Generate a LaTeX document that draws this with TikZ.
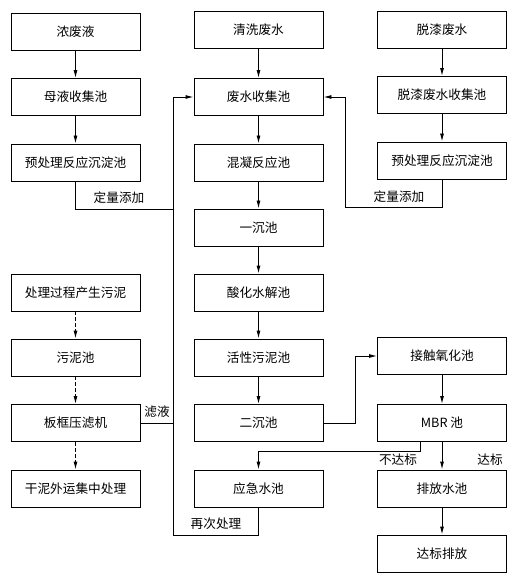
\documentclass[tikz,border=0pt]{standalone}
\usepackage{fontspec}
\setmainfont{Noto Sans CJK SC}
\usetikzlibrary{arrows.meta}
\tikzset{
  box/.style={draw, line width=0.7pt, minimum width=96.75pt, minimum height=27.75pt, inner sep=0pt, font=\fontsize{9.5pt}{11pt}\selectfont},
  lab/.style={inner sep=0pt, font=\fontsize{9.5pt}{11pt}\selectfont},
  conn/.style={line width=0.7pt},
  arr/.style={line width=0.7pt, -{Latex[length=6pt,width=3pt]}},
  darr/.style={line width=0.7pt, dash pattern=on 3pt off 1.5pt, -{Latex[length=6pt,width=3pt]}},
}
\begin{document}
\begin{tikzpicture}[x=0.75pt, y=-0.75pt]
\useasboundingbox (0,0) rectangle (521,584);
% column 1
\node[box] (nf) at (75.5,31.5) {浓废液};
\node[box] (my) at (75.5,97) {母液收集池};
\node[box] (p1) at (75.5,162.5) {预处理反应沉淀池};
\node[box] (cl) at (75.5,292.5) {处理过程产生污泥};
\node[box] (wn) at (75.5,357.5) {污泥池};
\node[box] (bk) at (75.5,423) {板框压滤机};
\node[box] (gn) at (75.5,488.5) {干泥外运集中处理};
% column 2
\node[box] (qx) at (258.5,29.5) {清洗废水};
\node[box] (sj) at (258.5,97) {废水收集池};
\node[box] (hn) at (258.5,162.5) {混凝反应池};
\node[box] (yc) at (258.5,227.5) {一沉池};
\node[box] (sh) at (258.5,292.5) {酸化水解池};
\node[box] (hx) at (258.5,357.5) {活性污泥池};
\node[box] (ec) at (258.5,423) {二沉池};
\node[box] (yj) at (258.5,488.5) {应急水池};
% column 3
\node[box] (tq) at (442,29.5) {脱漆废水};
\node[box] (ts) at (442,95) {脱漆废水收集池};
\node[box] (p3) at (442,160.5) {预处理反应沉淀池};
\node[box] (jc) at (442,356) {接触氧化池};
\node[box] (mbr) at (442,423) {MBR 池};
\node[box] (pf) at (442,488.5) {排放水池};
\node[box] (db) at (442,553.5) {达标排放};
% junction coordinates
\coordinate (jL) at (173,209);
\coordinate (bL) at (173,535);
\coordinate (jR) at (345,207);
\coordinate (je) at (355,423);
\coordinate (m1) at (420,442);
\coordinate (m2) at (420,451);
% column 1 arrows
\draw[arr] (nf) -- (my);
\draw[arr] (my) -- (p1);
\draw[darr] (cl) -- (wn);
\draw[darr] (wn) -- (bk);
\draw[darr] (bk) -- (gn);
% column 2 arrows
\draw[arr] (qx) -- (sj);
\draw[arr] (sj) -- (hn);
\draw[arr] (hn) -- (yc);
\draw[arr] (yc) -- (sh);
\draw[arr] (sh) -- (hx);
\draw[arr] (hx) -- (ec);
% column 3 arrows
\draw[arr] (tq) -- (ts);
\draw[arr] (ts) -- (p3);
\draw[arr] (jc) -- (mbr);
\draw[arr] (mbr) -- (pf);
\draw[arr] (pf) -- (db);
% return lines
\draw[arr] (yj.south) |- (bL) |- (sj.west);
\draw[conn] (p1.south) |- (jL);
\draw[conn] (bk.east) -- (bk.east -| bL);
\draw[arr] (p3.south) |- (jR) |- (sj.east);
\draw[arr] (ec.east) -- (je) |- (jc.west);
\draw[arr] (m1) -- (m2) -| (yj.north);
% labels
\node[lab] (l1) at (119,198) {定量添加};
\node[lab] (l2) at (399,197) {定量添加};
\node[lab] (l3) at (157,412) {滤液};
\node[lab] (l4) at (216,524) {再次处理};
\node[lab] (l5) at (398,460) {不达标};
\node[lab] (l6) at (490,460) {达标};
\end{tikzpicture}
\end{document}
